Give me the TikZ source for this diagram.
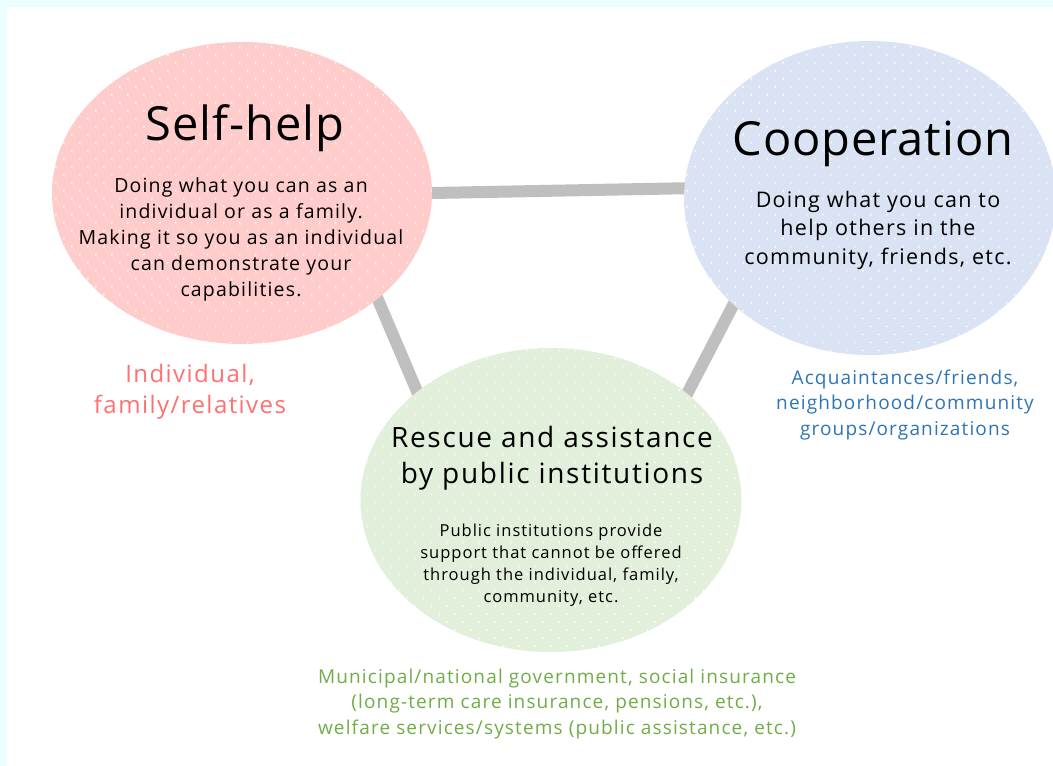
\documentclass[tikz,border=0pt]{standalone}
\usepackage{fontspec}
\setmainfont{Open Sans}[LetterSpace=6]
\newfontfamily\titlefont{Open Sans}[LetterSpace=2]
\usepackage{tikz}
\usetikzlibrary{shapes.geometric,patterns.meta,backgrounds}
\definecolor{frameclr}{RGB}{234,255,255}
\definecolor{selfclr}{RGB}{255,204,204}
\definecolor{coopclr}{RGB}{218,227,243}
\definecolor{pubclr}{RGB}{226,239,218}
\definecolor{linkclr}{RGB}{191,191,191}
\definecolor{selftxt}{RGB}{255,112,112}
\definecolor{cooptxt}{RGB}{46,117,182}
\definecolor{pubtxt}{RGB}{112,173,71}

\begin{document}
\begin{tikzpicture}[x=1pt,y=-1pt,
    bubble/.style={ellipse, inner sep=0pt,
        postaction={pattern={Dots[radius=1pt,distance=11.3pt,angle=45]}, pattern color=white}},
    link/.style={line width=12pt, draw=linkclr, shorten <=-10pt, shorten >=-10pt},
    bigtitle/.style={font=\titlefont\fontsize{47}{56}\selectfont},
    midtitle/.style={align=center, font=\fontsize{28}{36}\selectfont},
    bodytext/.style={align=center, font=\fontsize{19.5}{26}\selectfont},
    smalltext/.style={align=center, font=\fontsize{16.5}{22}\selectfont},
    tag/.style={align=center, font=\fontsize{19}{25.5}\selectfont}]

    \useasboundingbox (0,0) rectangle (1053,766);

    % the three circles
    \node[bubble, fill=selfclr, minimum width=380pt, minimum height=302pt] (self) at (242,193) {};
    \node[bubble, fill=coopclr, minimum width=372pt, minimum height=314pt] (coop) at (870,198) {};
    \node[bubble, fill=pubclr, minimum width=381pt, minimum height=304pt] (pub) at (551,500) {};

    \node[bigtitle] (selftitle) at (245,128) {Self-help};
    \node[bodytext] (selfbody) at (241,239) {Doing what you can as an\\individual or as a family.\\Making it so you as an individual\\can demonstrate your\\capabilities.};

    \node[bigtitle] (cooptitle) at (873,144) {Cooperation};
    \node[bodytext, font=\fontsize{21.5}{28.5}\selectfont] (coopbody) at (878,230) {Doing what you can to\\help others in the\\community, friends, etc.};

    \node[midtitle] (pubtitle) at (552,458) {Rescue and assistance\\by public institutions};
    \node[smalltext] (pubbody) at (551,565) {Public institutions provide\\support that cannot be offered\\through the individual, family,\\community, etc.};

    % who takes part
    \node[tag, text=selftxt, font=\fontsize{24}{31}\selectfont] (selftag) at (190,392) {Individual,\\family/relatives};
    \node[tag, text=cooptxt] (cooptag) at (905,405) {Acquaintances/friends,\\neighborhood/community\\groups/organizations};
    \node[tag, text=pubtxt] (pubtag) at (557,704) {Municipal/national government, social insurance\\(long-term care insurance, pensions, etc.),\\welfare services/systems (public assistance, etc.)};

    \begin{scope}[on background layer]
        \fill[frameclr] (0,0) rectangle (1053,766);
        \fill[white] (7,7) rectangle (1053,766);
        \draw[link] (self.0) -- (coop.177);
        \draw[link] (self.-38) -- (pub.141);
        \draw[link] (coop.218) -- (pub.38);
    \end{scope}

\end{tikzpicture}
\end{document}
